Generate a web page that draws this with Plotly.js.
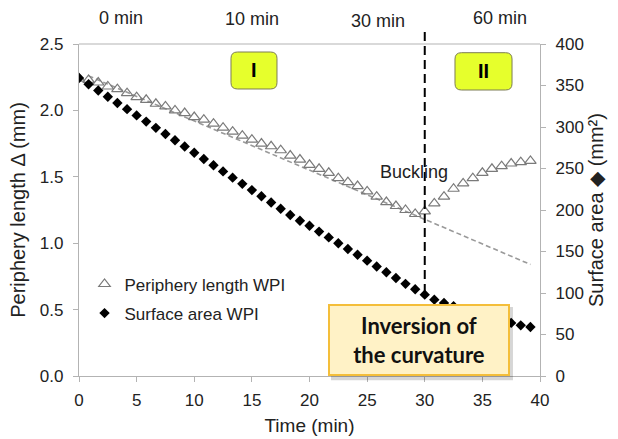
<!DOCTYPE html>
<html>
<head>
<meta charset="utf-8">
<script src="https://cdn.plot.ly/plotly-3.0.1.min.js"></script>
<style>
html,body{margin:0;padding:0;background:#fff;}
#chart{width:618px;height:439px;}
</style>
</head>
<body>
<div id="chart"></div>
<script>
// ---- data ----
const time = [0, 0.83, 1.67, 2.5, 3.33, 4.17, 5, 5.83, 6.67, 7.5, 8.33, 9.17, 10, 10.83, 11.67, 12.5,
  13.33, 14.17, 15, 15.83, 16.67, 17.5, 18.33, 19.17, 20, 20.83, 21.67, 22.5, 23.33, 24.17, 25, 25.83,
  26.67, 27.5, 28.33, 29.17, 30, 30.83, 31.67, 32.5, 33.33, 34.17, 35, 35.83, 36.67, 37.5, 38.33, 39.17];
const peripheryLength = [2.24, 2.23, 2.21, 2.18, 2.16, 2.13, 2.10, 2.08, 2.05, 2.03, 2.00, 1.98, 1.95, 1.93, 1.90, 1.87,
  1.84, 1.81, 1.78, 1.75, 1.73, 1.70, 1.66, 1.63, 1.59, 1.56, 1.53, 1.49, 1.46, 1.43, 1.39, 1.35,
  1.31, 1.28, 1.25, 1.22, 1.24, 1.30, 1.35, 1.41, 1.45, 1.49, 1.53, 1.56, 1.58, 1.60, 1.61, 1.62];
const surfaceArea = [359, 351.5, 344, 336.5, 329, 321.5, 314, 306.5, 299, 291.5, 284, 276.5, 269, 261.5, 254, 246.5,
  239, 231.5, 224, 216.5, 209, 201.5, 194, 187, 181, 174, 167, 160, 153, 146, 139, 132,
  125, 118, 111, 104.5, 98, 92, 88, 84, 80, 76.5, 73, 70, 67, 64, 61, 59];
const trendTime = [0.83, 39.17];
const trendLength = [2.26, 0.84];
const bucklingTime = 30;
const stageLabels = ['0 min', '10 min', '30 min', '60 min'];
const phaseLabels = ['I', 'II'];

// ---- layout helpers ----
const txtColor = '#222';
const axColor = '#b3b3b3';
const baseFont = "'Liberation Sans', Arial, sans-serif";

function roundRect(x0, y0, x1, y1, rx, ry) {
  return 'M' + (x0 + rx) + ',' + y1 +
    ' L' + (x1 - rx) + ',' + y1 + ' Q' + x1 + ',' + y1 + ' ' + x1 + ',' + (y1 - ry) +
    ' L' + x1 + ',' + (y0 + ry) + ' Q' + x1 + ',' + y0 + ' ' + (x1 - rx) + ',' + y0 +
    ' L' + (x0 + rx) + ',' + y0 + ' Q' + x0 + ',' + y0 + ' ' + x0 + ',' + (y0 + ry) +
    ' L' + x0 + ',' + (y1 - ry) + ' Q' + x0 + ',' + y1 + ' ' + (x0 + rx) + ',' + y1 + ' Z';
}

const traces = [
  {
    x: trendTime, y: trendLength, mode: 'lines', showlegend: false, hoverinfo: 'skip',
    line: {color: '#9a9a9a', width: 1.6, dash: '5px,3px'}
  },
  {
    x: time, y: peripheryLength, mode: 'markers', name: 'Periphery length WPI',
    legendgroup: 'a',
    marker: {symbol: 'triangle-up-open', size: 10, color: '#7a7a7a', line: {color: '#7a7a7a', width: 1.2}}
  },
  {
    x: time, y: surfaceArea, mode: 'markers', name: 'Surface area WPI', yaxis: 'y2',
    legendgroup: 'b',
    marker: {symbol: 'diamond', size: 8, color: '#000'}
  }
];

const shapes = [
  {type: 'line', xref: 'paper', yref: 'paper', x0: 0, x1: 1, y0: 1, y1: 1, line: {color: axColor, width: 1.2}},
  {type: 'line', xref: 'x', yref: 'paper', x0: bucklingTime, x1: bucklingTime, y0: 0.25, y1: 1.045,
   line: {color: '#000', width: 2, dash: '9px,5px'}},
  {type: 'path', xref: 'paper', yref: 'paper', path: roundRect(0.3297, 0.8645, 0.4295, 0.9759, 0.014, 0.019),
   fillcolor: '#E6FF2C', line: {color: '#7d7d55', width: 1}},
  {type: 'path', xref: 'paper', yref: 'paper', path: roundRect(0.8156, 0.8614, 0.9393, 0.9738, 0.014, 0.019),
   fillcolor: '#E6FF2C', line: {color: '#7d7d55', width: 1}},
  {type: 'rect', xref: 'paper', yref: 'paper', x0: 0.5466, x1: 0.9414, y0: -0.013, y1: 0.208,
   fillcolor: 'rgba(0,0,0,0.16)', line: {width: 0}}
];

function label(text, x, y, size, extra) {
  return Object.assign({text: text, xref: 'paper', yref: 'paper', x: x, y: y, xanchor: 'center', yanchor: 'middle',
    showarrow: false, font: {size: size, color: txtColor}}, extra || {});
}

const annotations = [
  label(stageLabels[0], 0.091, 1.078, 18),
  label(stageLabels[1], 0.375, 1.075, 18),
  label(stageLabels[2], 0.6486, 1.069, 18),
  label(stageLabels[3], 0.913, 1.078, 18),
  label('<b>' + phaseLabels[0] + '</b>', 0.3796, 0.9202, 20, {font: {size: 20, color: '#000'}}),
  label('<b>' + phaseLabels[1] + '</b>', 0.8775, 0.9176, 20, {font: {size: 20, color: '#000'}}),
  label('Buckling', 0.7267, 0.6145, 18),
  label('<b>Inversion of<br>the curvature</b>', 0.7375, 0.1075, 22, {
    width: 174, height: 64, align: 'center', valign: 'middle',
    bgcolor: '#FFF2C6', bordercolor: '#F4BE3A', borderwidth: 2, borderpad: 2,
    font: {size: 22, color: '#111', family: 'Lato, Open Sans, sans-serif'}})
];

const layout = {
  width: 618, height: 439,
  margin: {l: 79, r: 78, t: 44, b: 63},
  paper_bgcolor: '#fff', plot_bgcolor: '#fff',
  font: {family: baseFont, color: txtColor, size: 17},
  showlegend: true,
  legend: {x: 0.012, y: 0.33, xanchor: 'left', yanchor: 'top', bgcolor: 'rgba(0,0,0,0)',
           font: {size: 17, color: txtColor}, traceorder: 'grouped', tracegroupgap: 4, itemwidth: 30},
  xaxis: {
    range: [0, 40], dtick: 5, ticks: 'outside', ticklen: 5, tickcolor: axColor,
    showline: true, linecolor: axColor, linewidth: 1.2, showgrid: false, zeroline: false,
    tickfont: {size: 17, color: txtColor}, ticklabelstandoff: 3,
    title: {text: 'Time (min)', font: {size: 19, color: txtColor}, standoff: 10}
  },
  yaxis: {
    range: [0, 2.5], dtick: 0.5, tickformat: '.1f', ticks: 'outside', ticklen: 5, tickcolor: axColor,
    showline: true, linecolor: axColor, linewidth: 1.2, showgrid: false, zeroline: false,
    tickfont: {size: 17, color: txtColor}, ticklabelstandoff: 6,
    title: {text: 'Periphery length Δ (mm)', font: {size: 20, color: txtColor}, standoff: 8}
  },
  yaxis2: {
    range: [0, 400], dtick: 50, overlaying: 'y', side: 'right', ticks: 'outside', ticklen: 5, tickcolor: axColor,
    showline: true, linecolor: axColor, linewidth: 1.2, showgrid: false, zeroline: false,
    tickfont: {size: 17, color: txtColor}, ticklabelstandoff: 6,
    title: {text: 'Surface area ◆ (mm²)', font: {size: 20, color: txtColor}, standoff: 6}
  },
  shapes: shapes,
  annotations: annotations
};

Plotly.newPlot('chart', traces, layout, {staticPlot: true, displayModeBar: false});
</script>
</body>
</html>
